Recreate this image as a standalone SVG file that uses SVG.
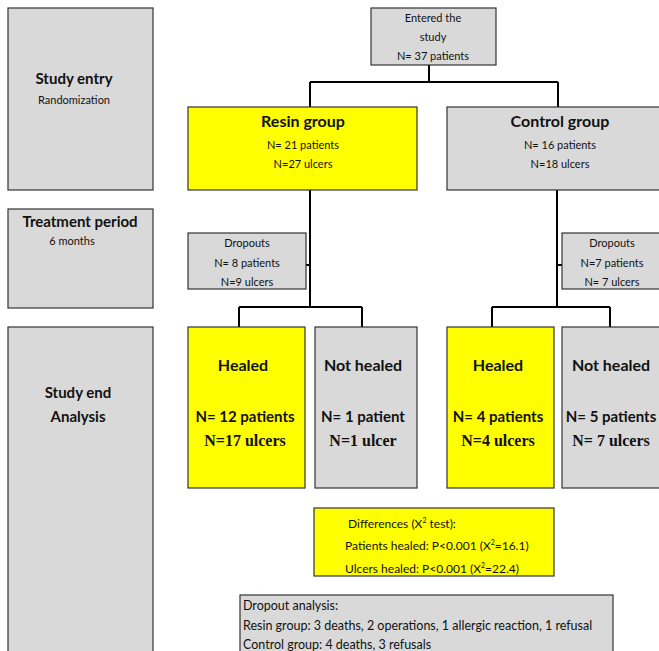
<svg xmlns="http://www.w3.org/2000/svg" width="659" height="651" viewBox="0 0 659 651">
<style>
.g{fill:#d9d9d9;stroke:#333;stroke-width:1.2}
.y{fill:#ffff00;stroke:#333;stroke-width:1.2}
.t{font-family:Lato,"Liberation Sans",sans-serif;fill:#111;text-anchor:middle}
.b{font-weight:bold}
.s{font-family:"Liberation Serif",serif;font-weight:bold;fill:#111;text-anchor:middle}
.l{font-family:Lato,"Liberation Sans",sans-serif;fill:#111}
#connectors path{fill:none;stroke:#000;stroke-width:2}
</style>
<rect width="659" height="651" fill="#fff"/>
<g id="connectors">
<path d="M429 65V82M310 82H558M310 82V107M558 82V107"/>
<path d="M310 190V307M239 307H362M239 307V327M362 307V327M306 265H310"/>
<path d="M557 190V307M492 307H610M492 307V327M610 307V327M557 265H562"/>
</g>
<g id="study-entry"><rect class="g" x="8" y="8" width="145" height="182"/>
<text class="t b" x="74" y="84" font-size="15">Study entry</text>
<text class="t" x="74" y="104" font-size="11">Randomization</text></g>
<g id="treatment-period"><rect class="g" x="8" y="209" width="145" height="99"/>
<text class="t b" x="80" y="227" font-size="15">Treatment period</text>
<text class="t" x="72" y="245" font-size="11">6 months</text></g>
<g id="study-end"><rect class="g" x="8" y="327" width="145" height="330"/>
<text class="t b" x="78" y="398" font-size="15">Study end</text>
<text class="t b" x="78" y="422" font-size="15">Analysis</text></g>
<g id="entered"><rect class="g" x="371" y="8" width="125" height="57"/>
<text class="t" x="433" y="22" font-size="11">Entered the</text>
<text class="t" x="433" y="41" font-size="11">study</text>
<text class="t" x="433" y="60" font-size="11">N= 37 patients</text></g>
<g id="resin-group"><rect class="y" x="188" y="107" width="229" height="83"/>
<text class="t b" x="303" y="127" font-size="16">Resin group</text>
<text class="t" x="303" y="149" font-size="11">N= 21 patients</text>
<text class="t" x="303" y="168" font-size="11">N=27 ulcers</text></g>
<g id="control-group"><rect class="g" x="447" y="107" width="220" height="83"/>
<text class="t b" x="560" y="127" font-size="16">Control group</text>
<text class="t" x="560" y="149" font-size="11">N= 16 patients</text>
<text class="t" x="560" y="168" font-size="11">N=18 ulcers</text></g>
<g id="resin-dropouts"><rect class="g" x="188" y="233" width="118" height="56"/>
<text class="t" x="247" y="247" font-size="11">Dropouts</text>
<text class="t" x="247" y="267" font-size="11">N= 8 patients</text>
<text class="t" x="247" y="286" font-size="11">N=9 ulcers</text></g>
<g id="control-dropouts"><rect class="g" x="562" y="233" width="105" height="56"/>
<text class="t" x="612" y="247" font-size="11">Dropouts</text>
<text class="t" x="612" y="267" font-size="11">N=7 patients</text>
<text class="t" x="612" y="286" font-size="11">N= 7 ulcers</text></g>
<g id="resin-healed"><rect class="y" x="188" y="327" width="117" height="161"/>
<text class="t b" x="243" y="371" font-size="16">Healed</text>
<text class="t b" x="245" y="422" font-size="15">N= 12 patients</text>
<text class="s" x="245" y="446" font-size="16">N=17 ulcers</text></g>
<g id="resin-not-healed"><rect class="g" x="315" y="327" width="102" height="161"/>
<text class="t b" x="363" y="371" font-size="16">Not healed</text>
<text class="t b" x="363" y="422" font-size="15">N= 1 patient</text>
<text class="s" x="363" y="446" font-size="16">N=1 ulcer</text></g>
<g id="control-healed"><rect class="y" x="447" y="327" width="107" height="161"/>
<text class="t b" x="498" y="371" font-size="16">Healed</text>
<text class="t b" x="498" y="422" font-size="15">N= 4 patients</text>
<text class="s" x="498" y="446" font-size="16">N=4 ulcers</text></g>
<g id="control-not-healed"><rect class="g" x="562" y="327" width="105" height="161"/>
<text class="t b" x="611" y="371" font-size="16">Not healed</text>
<text class="t b" x="611" y="422" font-size="15">N= 5 patients</text>
<text class="s" x="611" y="446" font-size="16">N= 7 ulcers</text></g>
<g id="differences"><rect class="y" x="314" y="508" width="240" height="68"/>
<text class="l" x="348" y="528" font-size="12">Differences (X<tspan font-size="7" dy="-5">2</tspan><tspan dy="5"> test):</tspan></text>
<text class="l" x="345" y="550" font-size="12">Patients healed: P&lt;0.001 (X<tspan font-size="7" dy="-5">2</tspan><tspan dy="5">=16.1)</tspan></text>
<text class="l" x="345" y="573" font-size="12">Ulcers healed: P&lt;0.001 (X<tspan font-size="7" dy="-5">2</tspan><tspan dy="5">=22.4)</tspan></text></g>
<g id="dropout-analysis"><rect class="g" x="240" y="595" width="373" height="70"/>
<text class="l" x="243" y="610" font-size="12.5">Dropout analysis:</text>
<text class="l" x="243" y="630" font-size="12.5">Resin group: 3 deaths, 2 operations, 1 allergic reaction, 1 refusal</text>
<text class="l" x="243" y="649" font-size="12.5">Control group: 4 deaths, 3 refusals</text></g>
</svg>
